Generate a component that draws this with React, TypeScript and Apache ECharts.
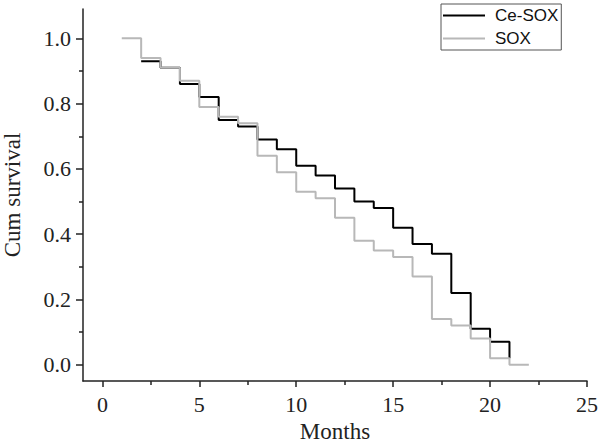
import React, { useEffect, useRef } from "react";
import * as echarts from "echarts";

const ceSoxMonths = [2, 3, 4, 5, 6, 7, 8, 9, 10, 11, 12, 13, 14, 15, 16, 17, 18, 19, 20, 21];
const ceSoxSurvival = [0.93, 0.91, 0.86, 0.82, 0.75, 0.73, 0.69, 0.66, 0.61, 0.58, 0.54, 0.5, 0.48, 0.42, 0.37, 0.34, 0.22, 0.11, 0.07, 0.02];
const soxMonths = [1, 2, 3, 4, 5, 6, 7, 8, 9, 10, 11, 12, 13, 14, 15, 16, 17, 18, 19, 20, 21, 22];
const soxSurvival = [1.0, 0.94, 0.91, 0.87, 0.79, 0.76, 0.74, 0.64, 0.59, 0.53, 0.51, 0.45, 0.38, 0.35, 0.33, 0.27, 0.14, 0.12, 0.08, 0.02, 0.0, 0.0];

const xMajorTicks = [0, 5, 10, 15, 20, 25];
const xMinorTicks = [2.5, 7.5, 12.5, 17.5, 22.5];
const yMajorTicks = [0, 0.2, 0.4, 0.6, 0.8, 1.0];
const yMinorTicks = [0.1, 0.3, 0.5, 0.7, 0.9];

const serif = "Liberation Serif";
const axisColor = "#222";

export default function App() {
  const ref = useRef<HTMLDivElement>(null);
  useEffect(() => {
    if (!ref.current) return;
    const chart = echarts.init(ref.current, null, { renderer: "svg" });
    const xRange = { min: -1, max: 25 };
    const yRange = { min: -0.05, max: 1.09 };
    chart.setOption({
      animation: false,
      backgroundColor: "#fff",
      textStyle: { fontFamily: serif },
      grid: { left: 83, right: 13, top: 9, bottom: 62, containLabel: false, outerBoundsMode: "none" },
      legend: {
        data: ["Ce-SOX", "SOX"],
        orient: "vertical",
        left: 441,
        top: 4,
        padding: [2, 3, 2, 2],
        itemGap: 4,
        itemWidth: 42,
        itemHeight: 2,
        icon: "rect",
        borderColor: "#555",
        borderWidth: 1,
        textStyle: { fontFamily: "Liberation Sans", fontSize: 17, color: "#111", lineHeight: 19, padding: [0, 0, 0, 5] },
      },
      xAxis: [
        {
          type: "value",
          ...xRange,
          name: "Months",
          nameLocation: "middle",
          nameGap: 39,
          nameTextStyle: { fontFamily: serif, fontSize: 23, lineHeight: 23, color: axisColor },
          axisLine: { show: true, onZero: false, lineStyle: { color: axisColor, width: 1.5 } },
          axisTick: { show: true, inside: false, length: 6, customValues: xMajorTicks, lineStyle: { color: axisColor, width: 1.5 } },
          axisLabel: { customValues: xMajorTicks, margin: 12, fontFamily: serif, fontSize: 22, color: axisColor },
          splitLine: { show: false },
        },
        {
          type: "value",
          ...xRange,
          position: "bottom",
          axisLine: { show: false, onZero: false },
          axisTick: { show: true, length: 4, customValues: xMinorTicks, lineStyle: { color: axisColor, width: 1.5 } },
          axisLabel: { show: false },
          splitLine: { show: false },
        },
      ],
      yAxis: [
        {
          type: "value",
          ...yRange,
          name: "Cum survival",
          nameLocation: "middle",
          nameGap: 59,
          nameTextStyle: { fontFamily: serif, fontSize: 23, lineHeight: 23, color: axisColor },
          axisLine: { show: true, onZero: false, lineStyle: { color: axisColor, width: 1.5 } },
          axisTick: { show: true, inside: false, length: 7, customValues: yMajorTicks, lineStyle: { color: axisColor, width: 1.5 } },
          axisLabel: {
            customValues: yMajorTicks,
            margin: 12,
            fontFamily: serif,
            fontSize: 22,
            color: axisColor,
            formatter: (v: number) => v.toFixed(1),
          },
          splitLine: { show: false },
        },
        {
          type: "value",
          ...yRange,
          position: "left",
          axisLine: { show: false, onZero: false },
          axisTick: { show: true, length: 4, customValues: yMinorTicks, lineStyle: { color: axisColor, width: 1.5 } },
          axisLabel: { show: false },
          splitLine: { show: false },
        },
      ],
      series: [
        {
          name: "Ce-SOX",
          type: "line",
          step: "end",
          showSymbol: false,
          symbol: "none",
          color: "#000",
          lineStyle: { color: "#000", width: 2 },
          data: ceSoxMonths.map((m, i) => [m, ceSoxSurvival[i]]),
        },
        {
          name: "SOX",
          type: "line",
          step: "end",
          showSymbol: false,
          symbol: "none",
          color: "#b8b8b8",
          lineStyle: { color: "#b8b8b8", width: 2 },
          data: soxMonths.map((m, i) => [m, soxSurvival[i]]),
        },
      ],
    });
    return () => chart.dispose();
  }, []);
  return <div ref={ref} style={{ width: 600, height: 443, position: "absolute", left: 0, top: 0 }} />;
}
